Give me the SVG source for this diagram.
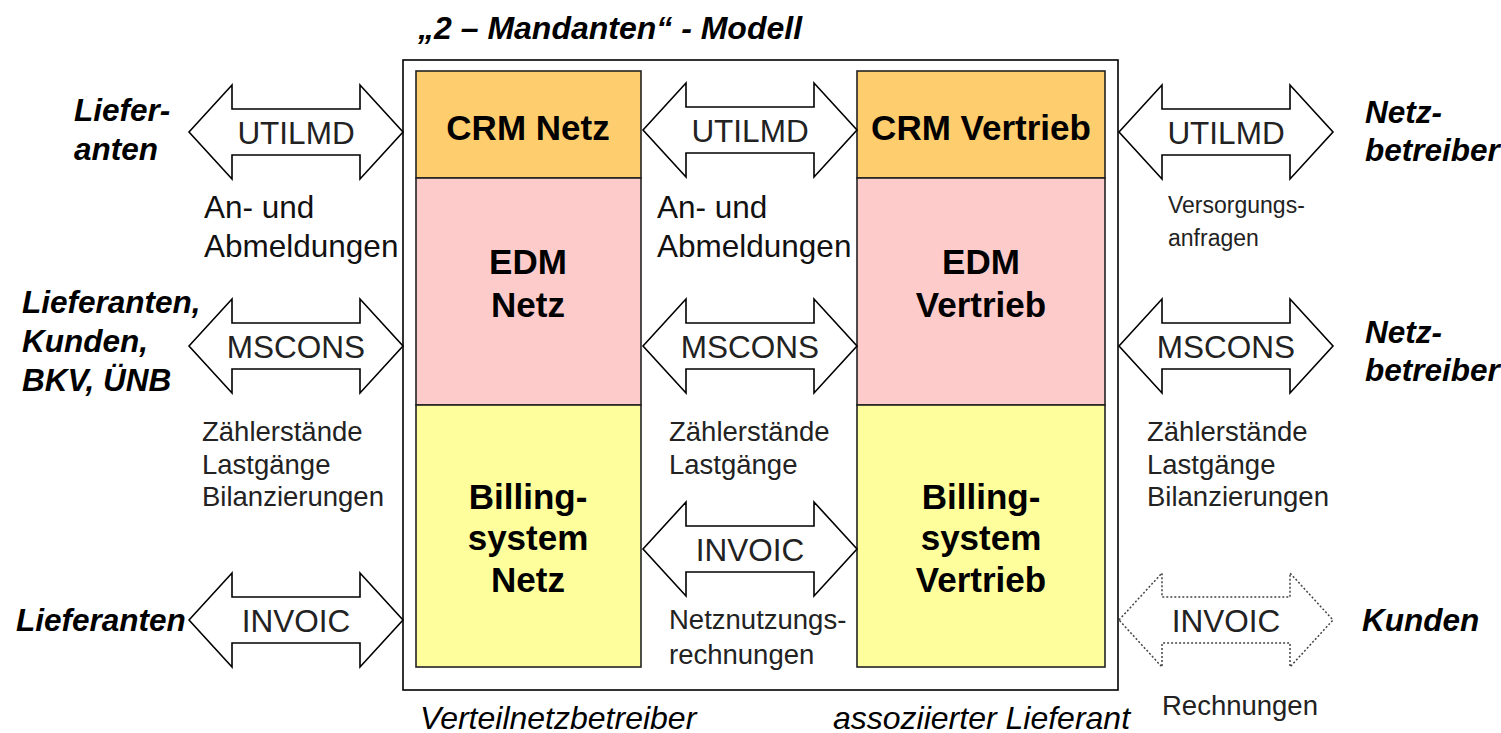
<svg xmlns="http://www.w3.org/2000/svg" width="1501" height="733" viewBox="0 0 1501 733">
<defs>
<style>
text{font-family:"Liberation Sans",Arial,sans-serif;fill:#000}
.bi{font-weight:bold;font-style:italic;font-size:31.5px}
.box{font-weight:bold;font-size:35px;text-anchor:middle}
.arr{font-size:31.5px;text-anchor:middle;fill:#222}
.lbl{font-size:31.5px;fill:#111}
.sm{font-size:27.5px;fill:#222}
.it{font-style:italic;font-size:32px}
.a{fill:#fff;stroke:#000;stroke-width:1.6}
.ad{fill:#fff;stroke:#444;stroke-width:1.5;stroke-dasharray:2 2}
.b{stroke:#222;stroke-width:1.6}
</style>
<path id="dbl" d="M0,0 L43,-47 L43,-23 L171,-23 L171,-47 L214,0 L171,47 L171,23 L43,23 L43,47 Z"/>
</defs>
<rect width="1501" height="733" fill="#fff"/>
<text class="bi" x="418" y="39" style="font-size:32px">„2 – Mandanten“ - Modell</text>
<g id="outer"><rect x="403" y="60" width="715" height="630" fill="none" stroke="#000" stroke-width="1.6"/></g>
<g id="crm-netz"><rect class="b" x="416" y="71" width="225" height="107" fill="#fecd6e"/><text class="box" x="528" y="140">CRM Netz</text></g>
<g id="edm-netz"><rect class="b" x="416" y="178" width="225" height="227" fill="#fecbcb"/><text class="box" x="528" y="274">EDM</text><text class="box" x="528" y="317">Netz</text></g>
<g id="billing-netz"><rect class="b" x="416" y="405" width="225" height="262" fill="#fefe9c"/><text class="box" x="528" y="509">Billing-</text><text class="box" x="528" y="550">system</text><text class="box" x="528" y="592">Netz</text></g>
<g id="crm-vertrieb"><rect class="b" x="857" y="71" width="248" height="107" fill="#fecd6e"/><text class="box" x="981" y="140">CRM Vertrieb</text></g>
<g id="edm-vertrieb"><rect class="b" x="857" y="178" width="248" height="227" fill="#fecbcb"/><text class="box" x="981" y="274">EDM</text><text class="box" x="981" y="317">Vertrieb</text></g>
<g id="billing-vertrieb"><rect class="b" x="857" y="405" width="248" height="262" fill="#fefe9c"/><text class="box" x="981" y="509">Billing-</text><text class="box" x="981" y="550">system</text><text class="box" x="981" y="592">Vertrieb</text></g>
<g id="connectors">
<use href="#dbl" class="a" x="189" y="132"/>
<use href="#dbl" class="a" x="643" y="130"/>
<use href="#dbl" class="a" x="1119" y="132"/>
<use href="#dbl" class="a" x="189" y="346"/>
<use href="#dbl" class="a" x="643" y="346"/>
<use href="#dbl" class="a" x="1119" y="346"/>
<use href="#dbl" class="a" x="643" y="549"/>
<use href="#dbl" class="a" x="189" y="620"/>
<use href="#dbl" class="ad" x="1119" y="620"/>
<text class="arr" x="296" y="144">UTILMD</text>
<text class="arr" x="750" y="142">UTILMD</text>
<text class="arr" x="1226" y="144">UTILMD</text>
<text class="arr" x="296" y="358">MSCONS</text>
<text class="arr" x="750" y="358">MSCONS</text>
<text class="arr" x="1226" y="358">MSCONS</text>
<text class="arr" x="750" y="561">INVOIC</text>
<text class="arr" x="296" y="632">INVOIC</text>
<text class="arr" x="1226" y="632">INVOIC</text>
</g>
<g id="labels">
<text class="bi" x="74" y="121">Liefer-</text>
<text class="bi" x="74" y="160">anten</text>
<text class="bi" x="22" y="313">Lieferanten,</text>
<text class="bi" x="22" y="352">Kunden,</text>
<text class="bi" x="22" y="391">BKV, ÜNB</text>
<text class="bi" x="16" y="631">Lieferanten</text>
<text class="bi" x="1365" y="123">Netz-</text>
<text class="bi" x="1365" y="161">betreiber</text>
<text class="bi" x="1365" y="343">Netz-</text>
<text class="bi" x="1365" y="381">betreiber</text>
<text class="bi" x="1362" y="631">Kunden</text>
<text class="lbl" x="204" y="218">An- und</text>
<text class="lbl" x="204" y="257">Abmeldungen</text>
<text class="lbl" x="657" y="218">An- und</text>
<text class="lbl" x="657" y="257">Abmeldungen</text>
<text class="sm" x="1168" y="213" style="font-size:23px">Versorgungs-</text>
<text class="sm" x="1168" y="246" style="font-size:23px">anfragen</text>
<text class="sm" x="202" y="441">Zählerstände</text>
<text class="sm" x="202" y="474">Lastgänge</text>
<text class="sm" x="202" y="506">Bilanzierungen</text>
<text class="sm" x="669" y="441">Zählerstände</text>
<text class="sm" x="669" y="474">Lastgänge</text>
<text class="sm" x="1147" y="441">Zählerstände</text>
<text class="sm" x="1147" y="474">Lastgänge</text>
<text class="sm" x="1147" y="506">Bilanzierungen</text>
<text class="sm" x="669" y="629">Netznutzungs-</text>
<text class="sm" x="669" y="664">rechnungen</text>
<text class="sm" x="1162" y="715">Rechnungen</text>
<text class="it" x="420" y="729">Verteilnetzbetreiber</text>
<text class="it" x="833" y="729">assoziierter Lieferant</text>
</g>
</svg>
